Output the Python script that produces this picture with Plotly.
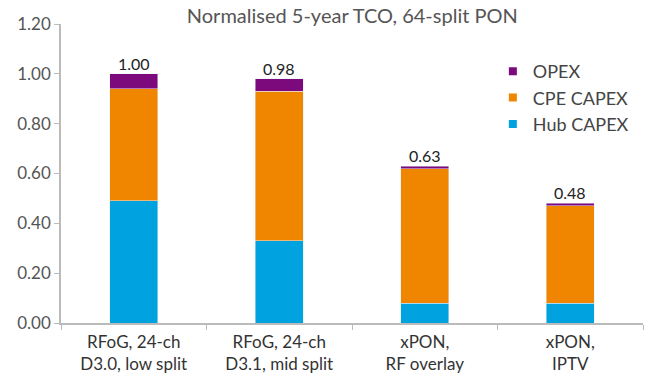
import plotly.graph_objects as go

categories = ["RFoG, 24-ch<br>D3.0, low split", "RFoG, 24-ch<br>D3.1, mid split", "xPON,<br>RF overlay", "xPON,<br>IPTV"]
hub_capex = [0.49, 0.33, 0.08, 0.08]
cpe_capex = [0.45, 0.60, 0.54, 0.39]
opex = [0.06, 0.05, 0.01, 0.01]
totals = [1.00, 0.98, 0.63, 0.48]
y_ticks = [0.0, 0.2, 0.4, 0.6, 0.8, 1.0, 1.2]
series_names = ["Hub CAPEX", "CPE CAPEX", "OPEX"]
series_colors = ["#00A3E0", "#F08500", "#7D0A7D"]

font_family = "Lato, 'Open Sans', sans-serif"

fig = go.Figure()
for name, vals, col in zip(series_names, [hub_capex, cpe_capex, opex], series_colors):
    fig.add_trace(go.Bar(name=name, x=categories, y=vals, marker_color=col, width=0.33, showlegend=False))
# legend-only entries with small square markers
for name, col in zip(series_names, series_colors):
    fig.add_trace(go.Scatter(name=name, x=[None], y=[None], mode="markers",
                             marker=dict(symbol="square", size=8, color=col), showlegend=True))

for c, t in zip(categories, totals):
    fig.add_annotation(x=c, y=t, text=f"{t:.2f}", showarrow=False, yanchor="bottom", yshift=-1,
                       font=dict(size=16, color="#222222", family=font_family))

fig.update_layout(
    barmode="stack",
    width=650, height=379,
    margin=dict(l=61, r=7, t=24, b=56),
    paper_bgcolor="white", plot_bgcolor="white",
    title=dict(text="Normalised 5-year TCO, 64-split PON", x=0.542, xanchor="center",
               y=0.958, yanchor="middle",
               font=dict(size=20, color="#555555", family=font_family)),
    legend=dict(traceorder="reversed", x=0.742, y=0.903, xanchor="left", yanchor="top",
                font=dict(size=18, color="#444444", family=font_family), itemwidth=30,
                bgcolor="rgba(0,0,0,0)", tracegroupgap=0),
    font=dict(family=font_family),
    bargap=0.67,
)
fig.update_xaxes(showline=True, linecolor="#BBBBBB", linewidth=1.5, ticks="outside", tickson="boundaries",
                 ticklen=5, tickcolor="#BBBBBB", ticklabelstandoff=3, automargin=False,
                 tickfont=dict(size=17, color="#333333", family=font_family))
fig.update_yaxes(range=[0, 1.2], tickvals=y_ticks, ticktext=[f"{v:.2f}" for v in y_ticks],
                 showline=True, linecolor="#BBBBBB", linewidth=1.5, ticks="outside", ticklen=5,
                 tickcolor="#BBBBBB", showgrid=False, zeroline=False, automargin=False,
                 tickfont=dict(size=17, color="#555555", family=font_family))

fig.write_html("out.html")
